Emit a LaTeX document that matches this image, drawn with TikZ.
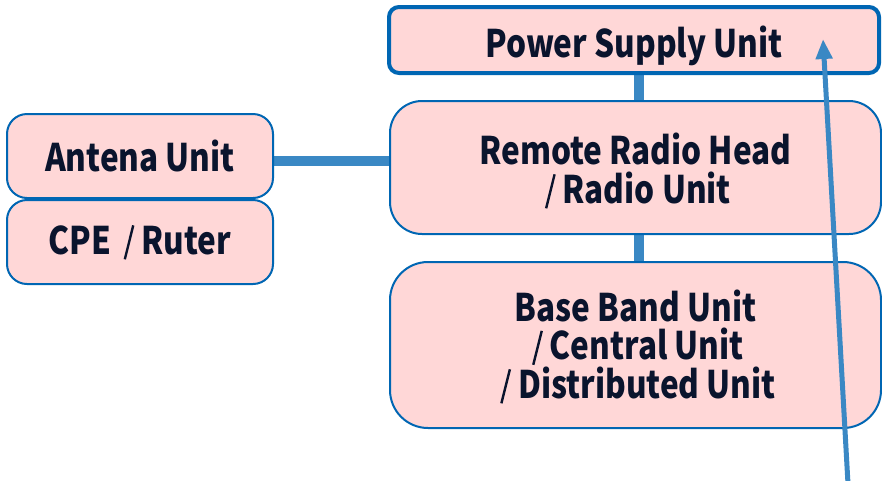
\documentclass[tikz,border=0pt]{standalone}
\usepackage{fontspec}
\usepackage{graphicx}
\setmainfont{Noto Sans CJK JP}[FakeStretch=0.83]
\usetikzlibrary{arrows.meta,backgrounds}
\definecolor{boxfill}{RGB}{255,215,215}
\definecolor{boxdraw}{RGB}{0,102,179}
\definecolor{connc}{RGB}{58,136,196}
\definecolor{textc}{RGB}{10,20,45}
\newcommand\fwslash{\hspace{5pt}\raisebox{-5pt}{\rotatebox{-14}{\rule{2.4pt}{35pt}}}\hspace{7pt}}
\begin{document}
\begin{tikzpicture}[x=1pt,y=-1pt,
  box/.style={draw=boxdraw, fill=boxfill, line width=2pt, rectangle, align=center,
    text=textc, font=\fontsize{38}{38.5}\selectfont\bfseries, inner sep=0pt},
  conn/.style={draw=connc, line width=10pt},
  pointer/.style={draw=connc, line width=5pt, -{Triangle[width=16pt,length=20pt]}}]
\useasboundingbox (0,0) rectangle (882,480);
\node[box, rounded corners=20pt, minimum width=266pt, minimum height=84pt,
  text height=30pt, text depth=0pt] (ant) at (140,156) {Antena Unit};
\node[box, rounded corners=20pt, minimum width=266pt, minimum height=84pt,
  text height=24pt, text depth=0pt] (cpe) at (140,242) {CPE \fwslash Ruter};
\node[box, line width=4pt, rounded corners=10pt, minimum width=490pt, minimum height=66pt,
  text height=34pt, text depth=0pt] (psu) at (634,40) {Power Supply Unit};
\node[box, rounded corners=32pt, minimum width=491pt, minimum height=133pt,
  text height=71pt, text depth=0pt] (rrh) at (635.5,167.5) {Remote Radio Head\\ \fwslash Radio Unit};
\node[box, rounded corners=38pt, minimum width=491pt, minimum height=166pt,
  text height=106pt, text depth=0pt] (bbu) at (635.5,345) {Base Band Unit\\ \fwslash Central Unit\\ \fwslash Distributed Unit};
\coordinate (conx) at (638.5,0);
\coordinate (cony) at (0,161);
\begin{pgfonlayer}{background}
\draw[conn] (ant.east |- cony) -- (rrh.west |- cony);
\draw[conn] (psu.south -| conx) -- (rrh.north -| conx);
\draw[conn] (rrh.south -| conx) -- (bbu.north -| conx);
\end{pgfonlayer}
\coordinate (arrowstart) at (848,484);
\coordinate (arrowtip) at (823,39);
\draw[pointer] (arrowstart) -- (arrowtip);
\end{tikzpicture}
\end{document}
